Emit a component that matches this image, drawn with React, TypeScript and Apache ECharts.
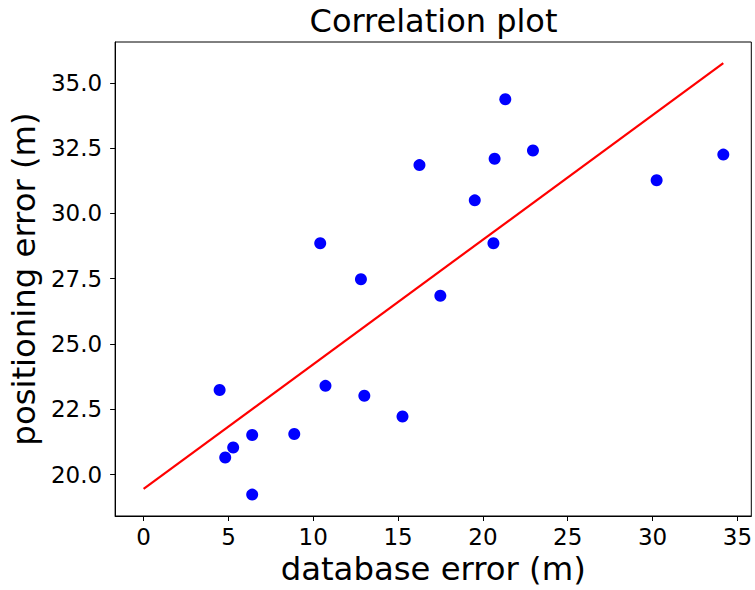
import React, { useEffect, useRef } from "react";
import * as echarts from "echarts";

const databaseError = [4.48, 4.81, 5.28, 6.4, 6.4, 8.88, 10.41, 10.72, 12.81, 13.01, 15.26, 16.26, 17.49, 19.52, 20.62, 20.69, 21.32, 22.95, 30.24, 34.17];
const positioningError = [23.24, 20.66, 21.04, 21.52, 19.24, 21.56, 28.86, 23.4, 27.48, 23.02, 22.23, 31.85, 26.85, 30.5, 28.86, 32.09, 34.37, 32.41, 31.27, 32.25];
const fitLineX = [0, 34.17];
const fitLineY = [19.46, 35.75];
const xTicks = [0, 5, 10, 15, 20, 25, 30, 35];
const yTicks = [20, 22.5, 25, 27.5, 30, 32.5, 35];

const FONT = "DejaVu Sans";

export default function App() {
  const ref = useRef<HTMLDivElement>(null);
  useEffect(() => {
    document.body.style.margin = "0";
    if (!ref.current) return;
    const chart = echarts.init(ref.current, null, { renderer: "svg" });
    const scatterData = databaseError.map((x, i) => [x, positioningError[i]]);
    const lineData = fitLineX.map((x, i) => [x, fitLineY[i]]);
    chart.setOption({
      animation: false,
      backgroundColor: "#ffffff",
      title: {
        text: "Correlation plot",
        left: 428.5,
        textAlign: "center",
        top: 0,
        textStyle: { fontFamily: FONT, fontSize: 32, fontWeight: "normal", color: "#000" },
      },
      grid: {
        left: 114,
        right: 2,
        top: 42,
        bottom: 72,
        show: true,
        borderColor: "#000",
        borderWidth: 1,
        backgroundColor: "transparent",
      },
      xAxis: {
        type: "value",
        min: -1.68,
        max: 35.82,
        name: "database error (m)",
        nameLocation: "middle",
        nameGap: 37,
        nameTextStyle: { fontFamily: FONT, fontSize: 32.3, color: "#000" },
        axisLine: { show: true, onZero: false, lineStyle: { color: "#000", width: 1 } },
        axisTick: { show: true, length: 5, customValues: xTicks, lineStyle: { color: "#000", width: 1 } },
        axisLabel: {
          customValues: xTicks,
          margin: 9,
          fontFamily: FONT,
          fontSize: 23,
          color: "#000",
        },
        splitLine: { show: false },
      },
      yAxis: {
        type: "value",
        min: 18.42,
        max: 36.56,
        name: "positioning error (m)",
        nameLocation: "middle",
        nameGap: 73,
        nameTextStyle: { fontFamily: FONT, fontSize: 32.3, color: "#000" },
        axisLine: { show: true, onZero: false, lineStyle: { color: "#000", width: 1 } },
        axisTick: { show: true, length: 5, customValues: yTicks, lineStyle: { color: "#000", width: 1 } },
        axisLabel: {
          customValues: yTicks,
          margin: 13,
          fontFamily: FONT,
          fontSize: 23,
          color: "#000",
          formatter: (v: number) => v.toFixed(1),
        },
        splitLine: { show: false },
      },
      series: [
        {
          type: "scatter",
          data: scatterData,
          symbol: "circle",
          symbolSize: 12,
          itemStyle: { color: "#0000ff", opacity: 1 },
          z: 2,
        },
        {
          type: "line",
          data: lineData,
          showSymbol: false,
          symbol: "none",
          lineStyle: { color: "#ff0000", width: 2.2 },
          z: 3,
        },
      ],
    });
    return () => chart.dispose();
  }, []);
  return (
    <div
      ref={ref}
      style={{ position: "absolute", left: 0, top: 0, width: 755, height: 590 }}
    />
  );
}
